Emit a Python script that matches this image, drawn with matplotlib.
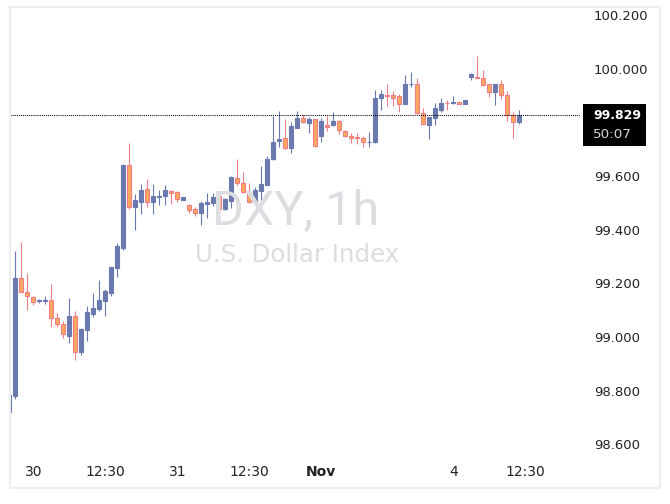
import numpy as np
import matplotlib
matplotlib.use('Agg')
import matplotlib.pyplot as plt
from matplotlib.patches import Rectangle

#%% Data (DXY, 1h candles)
opens  = [98.721, 98.780, 99.220, 99.169, 99.148, 99.136, 99.136, 99.137, 99.069, 99.047,
          99.004, 99.080, 98.945, 99.027, 99.087, 99.105, 99.135, 99.165, 99.258, 99.333,
          99.642, 99.486, 99.505, 99.551, 99.505, 99.524, 99.527, 99.545, 99.540, 99.512,
          99.491, 99.476, 99.461, 99.495, 99.501, 99.526, 99.476, 99.507, 99.592, 99.573,
          99.540, 99.502, 99.546, 99.569, 99.664, 99.733, 99.741, 99.706, 99.781, 99.817,
          99.800, 99.812, 99.751, 99.790, 99.790, 99.806, 99.769, 99.749, 99.746, 99.741,
          99.727, 99.727, 99.893, 99.904, 99.902, 99.899, 99.871, 99.943, 99.944, 99.835,
          99.792, 99.817, 99.848, 99.874, 99.875, 99.876, 99.871, 99.969, 99.969, 99.966,
          99.944, 99.915, 99.944, 99.902, 99.827, 99.803]
highs  = [98.790, 99.321, 99.354, 99.238, 99.153, 99.143, 99.153, 99.197, 99.089, 99.059,
          99.145, 99.097, 99.033, 99.115, 99.164, 99.212, 99.179, 99.262, 99.351, 99.647,
          99.724, 99.533, 99.571, 99.589, 99.571, 99.548, 99.567, 99.548, 99.545, 99.523,
          99.496, 99.484, 99.507, 99.538, 99.536, 99.531, 99.517, 99.601, 99.664, 99.616,
          99.573, 99.560, 99.640, 99.675, 99.825, 99.843, 99.812, 99.802, 99.843, 99.832,
          99.822, 99.813, 99.818, 99.825, 99.839, 99.810, 99.771, 99.761, 99.761, 99.751,
          99.766, 99.922, 99.922, 99.945, 99.918, 99.908, 99.979, 99.989, 99.967, 99.855,
          99.822, 99.873, 99.892, 99.883, 99.899, 99.881, 99.883, 99.984, 100.049, 99.996,
          99.944, 99.945, 99.959, 99.919, 99.840, 99.847]
lows   = [98.715, 98.767, 99.168, 99.100, 99.120, 99.128, 99.124, 99.038, 99.036, 98.997,
          98.978, 98.915, 98.933, 98.986, 99.074, 99.098, 99.079, 99.154, 99.225, 99.326,
          99.479, 99.400, 99.458, 99.486, 99.458, 99.492, 99.492, 99.495, 99.502, 99.511,
          99.461, 99.450, 99.419, 99.445, 99.490, 99.473, 99.474, 99.480, 99.568, 99.536,
          99.500, 99.500, 99.511, 99.567, 99.662, 99.708, 99.700, 99.688, 99.780, 99.797,
          99.762, 99.708, 99.729, 99.770, 99.789, 99.756, 99.747, 99.723, 99.720, 99.710,
          99.710, 99.725, 99.847, 99.863, 99.863, 99.841, 99.870, 99.932, 99.834, 99.793,
          99.740, 99.792, 99.840, 99.847, 99.868, 99.868, 99.871, 99.959, 99.965, 99.938,
          99.895, 99.866, 99.888, 99.806, 99.743, 99.795]
closes = [98.783, 99.220, 99.169, 99.151, 99.131, 99.137, 99.138, 99.069, 99.047, 99.010,
          99.078, 98.945, 99.029, 99.093, 99.108, 99.138, 99.171, 99.261, 99.339, 99.642,
          99.486, 99.511, 99.548, 99.502, 99.526, 99.526, 99.548, 99.538, 99.514, 99.521,
          99.473, 99.461, 99.500, 99.504, 99.522, 99.476, 99.515, 99.597, 99.573, 99.540,
          99.502, 99.548, 99.570, 99.664, 99.729, 99.739, 99.706, 99.787, 99.816, 99.803,
          99.812, 99.713, 99.806, 99.785, 99.806, 99.771, 99.749, 99.744, 99.744, 99.727,
          99.728, 99.892, 99.907, 99.901, 99.893, 99.868, 99.944, 99.944, 99.835, 99.794,
          99.821, 99.855, 99.873, 99.872, 99.876, 99.868, 99.883, 99.982, 99.966, 99.940,
          99.915, 99.944, 99.902, 99.827, 99.803, 99.829]

time_ticks   = [4, 16, 28, 40, 52, 74, 86]
time_labels  = ['30', '12:30', '31', '12:30', 'Nov', '4', '12:30']
price_ticks  = [98.6, 98.8, 99.0, 99.2, 99.4, 99.6, 100.0, 100.2]
last_price   = closes[-1]
countdown    = '50:07'

#------
up_col   = '#6a7aae'
dn_fill  = '#f9a95e'
dn_edge  = '#f07c85'
txt_col  = '#222222'
wm_col   = '#dcdde1'

#%% Figure
W, H = 670, 504
fig = plt.figure(figsize=(W/100, H/100), dpi=100)
ax  = fig.add_axes([10/W, 1 - 458/H, 570/W, 450/H])
ax.patch.set_alpha(0)

x  = np.arange(len(opens))
o  = np.array(opens); c = np.array(closes)
hi = np.array(highs); lo = np.array(lows)
up = c >= o

# watermark (behind candles)
fig.text(296/W, 1 - 225/H, 'DXY, 1h', family='Roboto', fontsize=35,
         color=wm_col, ha='center', va='baseline', zorder=0)
fig.text(297/W, 1 - 262/H, 'U.S. Dollar Index', family='DejaVu Sans', fontsize=17.6,
         color=wm_col, ha='center', va='baseline', zorder=0)

# wicks
ax.vlines(x[up],  lo[up],  hi[up],  color=up_col,  lw=0.8, zorder=2)
ax.vlines(x[~up], lo[~up], hi[~up], color=dn_edge, lw=0.8, zorder=2)
# bodies
ax.bar(x[up],  c[up] - o[up],   bottom=o[up],  width=0.62, color=up_col,
       edgecolor=up_col, lw=0.8, zorder=3)
ax.bar(x[~up], c[~up] - o[~up], bottom=o[~up], width=0.62, color=dn_fill,
       edgecolor=dn_edge, lw=0.8, zorder=3)

# last price line
ax.axhline(last_price, color='black', lw=0.75, linestyle=(0, (1, 1)), zorder=4)

ax.set_xlim(0.117, 95.12)
ax.set_ylim(98.548, 100.228)

for s in ax.spines.values():
    s.set_visible(False)

ax.set_xticks(time_ticks)
ax.set_xticklabels(time_labels)
for lab in ax.get_xticklabels():
    if lab.get_text() == 'Nov':
        lab.set_fontweight('bold')
ax.yaxis.tick_right()
ax.set_yticks(price_ticks)
ax.set_yticklabels([f'{p:.3f}' for p in price_ticks])
ax.tick_params(axis='x', length=0, pad=5, labelsize=10, labelcolor=txt_col)
ax.tick_params(axis='y', length=0, pad=10, labelsize=9.5, labelcolor=txt_col)

# price label box on the scale, anchored at the last close
px_y = ax.transData.transform((0, last_price))[1]
fig.patches.append(Rectangle((583/W, (px_y - 31.5)/H), 63/W, 42/H, transform=fig.transFigure,
                             facecolor='black', edgecolor='none', zorder=5))
fig.text(593/W, (px_y - 1)/H, f'{last_price:.3f}', color='white', fontweight='bold',
         fontsize=9, ha='left', va='center', zorder=6)
fig.text(593/W, (px_y - 20)/H, countdown, color='#d6d6d6',
         fontsize=9.7, ha='left', va='center', zorder=6)

# outer frame
fig.patches.append(Rectangle((10/W, 16/H), 650/W, 481/H, transform=fig.transFigure,
                             fill=False, edgecolor='#eeeeee', lw=1.5, zorder=1))

fig.savefig('out.png', dpi=100)
